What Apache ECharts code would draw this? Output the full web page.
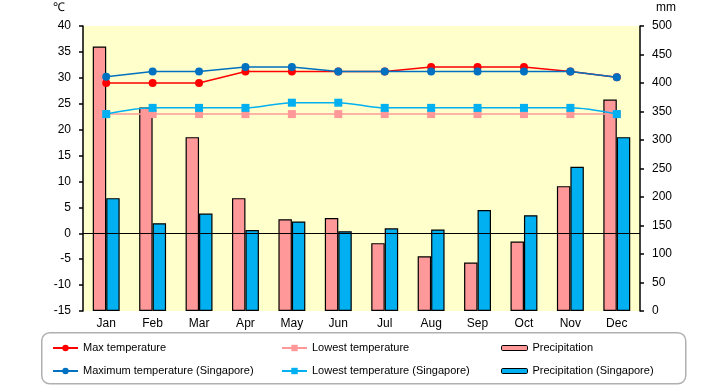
<!DOCTYPE html>
<html>
<head>
<meta charset="utf-8">
<script src="https://cdn.jsdelivr.net/npm/echarts@6/dist/echarts.min.js"></script>
<style>html,body{margin:0;padding:0;background:#fff}#c{width:720px;height:385px}</style>
</head>
<body>
<div id="c"></div>
<script>
var months = ['Jan','Feb','Mar','Apr','May','Jun','Jul','Aug','Sep','Oct','Nov','Dec'];
var maxTemp = [29.0, 29.0, 29.0, 31.2, 31.2, 31.2, 31.2, 32.1, 32.1, 32.1, 31.2, 30.1];
var lowTemp = [23.0, 23.0, 23.0, 23.0, 23.0, 23.0, 23.0, 23.0, 23.0, 23.0, 23.0, 23.0];
var precip = [464, 357, 305, 198, 161, 163, 119, 96, 85, 122, 219, 371];
var maxTempSg = [30.2, 31.2, 31.2, 32.1, 32.1, 31.2, 31.2, 31.2, 31.2, 31.2, 31.2, 30.1];
var lowTempSg = [23.0, 24.2, 24.2, 24.2, 25.2, 25.2, 24.2, 24.2, 24.2, 24.2, 24.2, 23.0];
var precipSg = [198, 154, 171, 142, 157, 140, 145, 143, 177, 168, 253, 305];

var FONT = '"Liberation Sans", Arial, sans-serif';
var chart = echarts.init(document.getElementById('c'), null, {renderer: 'canvas'});
var legendText = {fontFamily: FONT, fontSize: 11, color: '#000', lineHeight: 14};
var option = {
  animation: false,
  textStyle: {fontFamily: FONT},
  grid: {left: 83, right: 80, top: 26, bottom: 74, show: true, backgroundColor: '#FFFFCC', borderWidth: 0},
  graphic: [
    {type: 'rect', left: 41, top: 332, shape: {width: 644, height: 51, r: 8}, style: {fill: '#fff', stroke: '#b0b0b0', lineWidth: 1.5}, z: -1},
    {type: 'text', left: 53, top: 2, style: {text: '℃', fontFamily: FONT, fontSize: 12, fill: '#000'}},
    {type: 'text', left: 656, top: 2, style: {text: 'mm', fontFamily: FONT, fontSize: 12, fill: '#000'}}
  ],
  legend: [
    {left: 52, top: 341, padding: 0, orient: 'vertical', itemWidth: 25, itemHeight: 8, itemGap: 9, textStyle: legendText,
     data: ['Max temperature', 'Maximum temperature (Singapore)']},
    {left: 281, top: 341, padding: 0, orient: 'vertical', itemWidth: 25, itemHeight: 8, itemGap: 9, textStyle: legendText,
     data: ['Lowest temperature', 'Lowest temperature (Singapore)']},
    {left: 501, top: 341, padding: 0, orient: 'vertical', itemWidth: 26, itemHeight: 5, itemGap: 9, textStyle: legendText,
     itemStyle: {borderWidth: 1, borderColor: '#000'},
     data: ['Precipitation', 'Precipitation (Singapore)']}
  ],
  xAxis: {
    type: 'category', data: months,
    axisLine: {show: false}, axisTick: {show: false},
    axisLabel: {color: '#000', fontSize: 12, margin: 7, fontFamily: FONT}
  },
  yAxis: [
    {type: 'value', min: -15, max: 40, interval: 5, position: 'left',
     axisLine: {show: true, lineStyle: {color: '#000', width: 1.5}},
     axisTick: {show: true, length: 4, lineStyle: {color: '#000', width: 1.5}},
     axisLabel: {color: '#000', fontSize: 12, margin: 12, fontFamily: FONT},
     splitLine: {show: false}},
    {type: 'value', min: 0, max: 500, interval: 50, position: 'right',
     axisLine: {show: true, lineStyle: {color: '#000', width: 1.5}},
     axisTick: {show: true, length: 4, lineStyle: {color: '#000', width: 1.5}},
     axisLabel: {color: '#000', fontSize: 12, margin: 12, fontFamily: FONT},
     splitLine: {show: false}}
  ],
  series: [
    {name: 'Precipitation', type: 'bar', yAxisIndex: 1, data: precip, barGap: '0%', barCategoryGap: '42%',
     itemStyle: {color: '#FF9999', borderColor: '#000', borderWidth: 1.2}, z: 1},
    {name: 'Precipitation (Singapore)', type: 'bar', yAxisIndex: 1, data: precipSg, barGap: '0%', barCategoryGap: '42%',
     itemStyle: {color: '#00B0F0', borderColor: '#000', borderWidth: 1.2}, z: 1},
    {name: 'Max temperature', type: 'line', yAxisIndex: 0, data: maxTemp, symbol: 'circle', symbolSize: 8,
     itemStyle: {color: '#FF0000'}, lineStyle: {color: '#FF0000', width: 1.5}, z: 3,
     markLine: {silent: true, symbol: 'none', label: {show: false}, data: [{yAxis: 0}],
                lineStyle: {color: '#000', type: 'solid', width: 1.2}}},
    {name: 'Lowest temperature', type: 'line', yAxisIndex: 0, data: lowTemp, symbol: 'rect', symbolSize: 8,
     itemStyle: {color: '#FF9999'}, lineStyle: {color: '#FF9999', width: 1.5}, z: 3},
    {name: 'Maximum temperature (Singapore)', type: 'line', yAxisIndex: 0, data: maxTempSg, symbol: 'circle', symbolSize: 8,
     itemStyle: {color: '#0070C0'}, lineStyle: {color: '#0070C0', width: 1.5}, z: 4},
    {name: 'Lowest temperature (Singapore)', type: 'line', yAxisIndex: 0, data: lowTempSg, symbol: 'rect', symbolSize: 8,
     smooth: 0.3, itemStyle: {color: '#00B0F0'}, lineStyle: {color: '#00B0F0', width: 1.5}, z: 4}
  ]
};
chart.setOption(option);
</script>
</body>
</html>
